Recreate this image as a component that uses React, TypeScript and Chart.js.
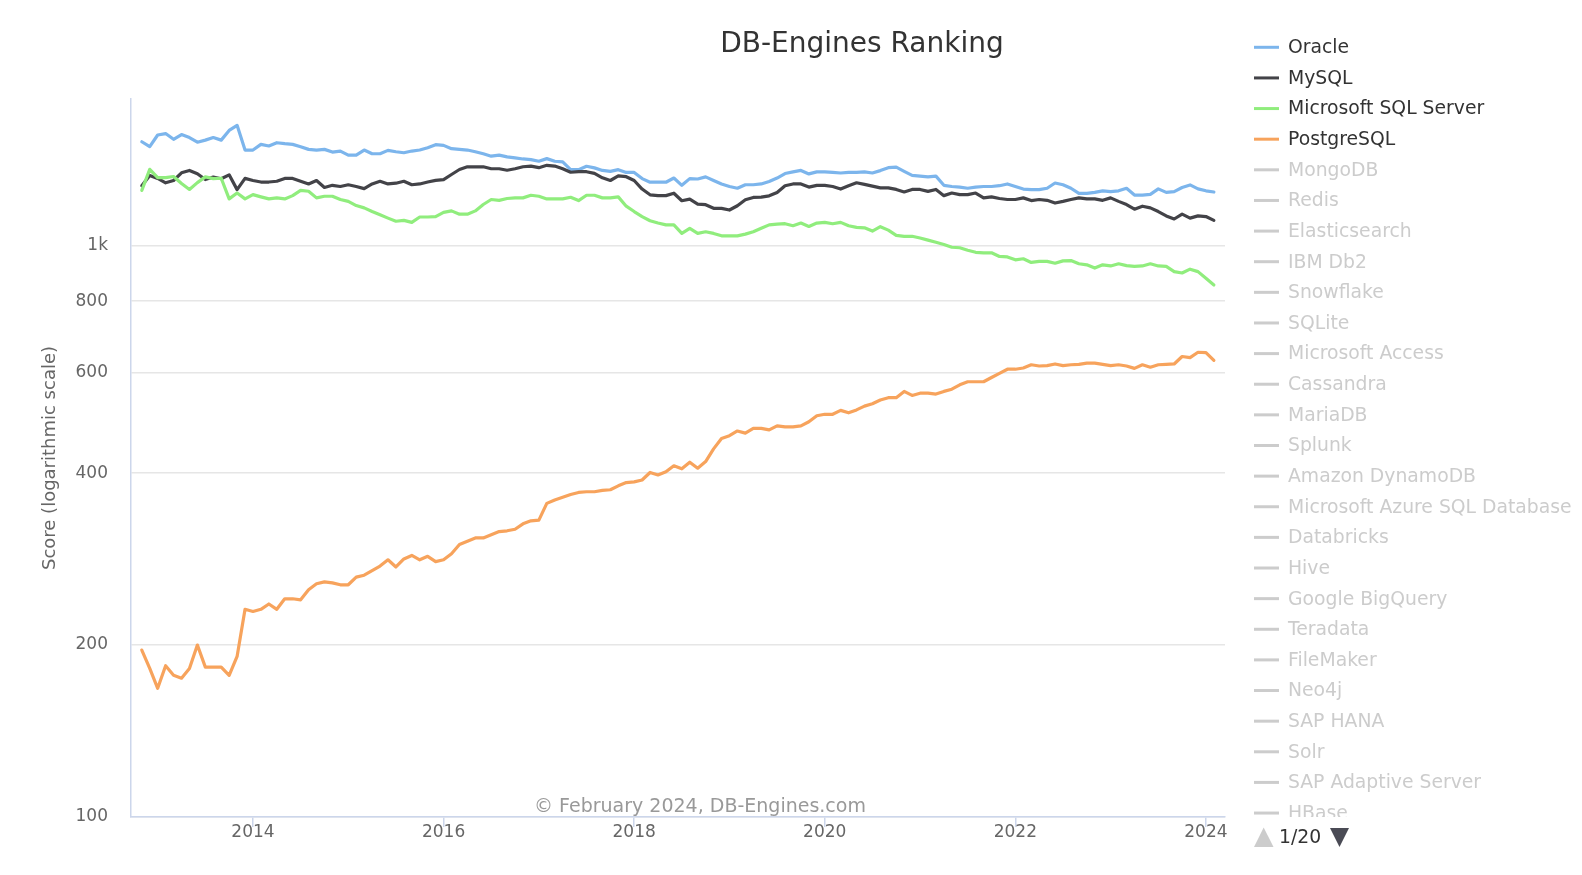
import React, { useEffect, useRef } from "react";
import { Chart, registerables } from "chart.js";

Chart.register(...registerables);

// ---------- data ----------
const START_YEAR = 2012;
const START_MONTH = 11; // first monthly score: November 2012

const oracle = [
  1521, 1491, 1563, 1572, 1536, 1566, 1547, 1518, 1531, 1547, 1531, 1592, 1625,
  1471, 1471, 1505, 1495, 1515, 1509, 1505, 1491, 1475, 1471, 1475, 1459, 1465,
  1441, 1441, 1471, 1449, 1449, 1469, 1461, 1455, 1465, 1471, 1485, 1503, 1499,
  1479, 1475, 1471, 1461, 1449, 1435,
  1441, 1431, 1425, 1419, 1415, 1406, 1421, 1406, 1402,
  1359, 1359, 1378, 1369, 1355, 1350, 1359, 1344, 1344, 1311, 1292, 1292, 1292,
  1314, 1276, 1311, 1309, 1320, 1301, 1283, 1270, 1261, 1279, 1279, 1283, 1296,
  1314, 1338, 1347, 1355, 1336, 1347, 1347, 1344, 1341, 1344, 1344,
  1347, 1341, 1354, 1370, 1373, 1350, 1328, 1324, 1320, 1324, 1276, 1270, 1267,
  1261, 1267, 1270, 1270, 1274, 1283, 1270, 1257, 1254, 1254, 1261, 1288, 1279,
  1261, 1235, 1235, 1240, 1248, 1244, 1248, 1261, 1227, 1227, 1230, 1258, 1240,
  1244, 1265, 1278, 1258, 1248, 1242,
];

const mysql = [
  1274, 1328, 1312, 1289, 1301, 1342, 1355, 1337, 1306, 1319, 1310, 1331, 1254,
  1312, 1301, 1293, 1293, 1297, 1312, 1312, 1297, 1283, 1301, 1265, 1276, 1270,
  1279, 1270, 1259, 1283, 1297, 1283, 1287, 1297, 1279, 1283, 1293, 1302, 1306,
  1333, 1360, 1375, 1375, 1375, 1364,
  1364, 1356, 1364, 1375, 1379, 1370, 1383, 1379, 1364, 1345, 1348, 1348, 1339,
  1315, 1301, 1325, 1321, 1301, 1257, 1228, 1224, 1224, 1236, 1199, 1207, 1183,
  1180, 1163, 1163, 1155, 1175, 1204, 1215, 1217, 1223, 1240, 1274, 1283, 1283,
  1267, 1276, 1276, 1270, 1257, 1274, 1289,
  1281, 1272, 1263, 1263, 1255, 1242, 1255, 1255, 1245, 1255, 1224, 1237, 1229,
  1229, 1237, 1213, 1218, 1210, 1205, 1205, 1213, 1200, 1205, 1201, 1188, 1196,
  1205, 1213, 1208, 1208, 1201, 1213, 1196, 1181, 1159, 1173, 1165, 1148, 1128,
  1114, 1136, 1118, 1128, 1125, 1108,
];

const mssql = [
  1250, 1361, 1316, 1316, 1322, 1285, 1255, 1290, 1320, 1311, 1313, 1208, 1237,
  1208, 1229, 1218, 1208, 1213, 1208, 1224, 1250, 1246, 1213, 1221, 1221, 1205,
  1196, 1176, 1165, 1148, 1133, 1118, 1104, 1108, 1099, 1123, 1123, 1125, 1144,
  1151, 1136, 1136, 1151, 1181, 1205,
  1201, 1210, 1213, 1213, 1226, 1221, 1208, 1208, 1208, 1216, 1200, 1226, 1226,
  1213, 1213, 1218, 1173, 1148, 1125, 1106, 1096, 1088, 1088, 1051, 1073, 1051,
  1058, 1051, 1041, 1041, 1041, 1048, 1058, 1073, 1088, 1091, 1093, 1084, 1096,
  1081, 1096, 1099, 1093, 1099, 1084, 1077,
  1075, 1061, 1080, 1065, 1043, 1039, 1039, 1032, 1023, 1014, 1005, 994, 992,
  982, 974, 972, 972, 958, 956, 945, 949, 935, 939, 939, 932, 941,
  942, 930, 926, 914, 926, 922, 930, 923, 920, 922, 930, 922, 920,
  901, 896, 910, 901, 877, 854,
];

const postgresql = [
  196, 182, 168, 184, 177, 175, 182, 200, 183, 183, 183, 177, 191,
  231, 229, 231, 236, 231, 241, 241, 240, 250, 256, 258, 257, 255,
  255, 263, 265, 270, 275, 282, 274, 283, 287, 282, 286, 280, 282,
  289, 300, 304, 308, 308, 312, 316, 317, 319, 326, 330, 331, 354,
  359, 363, 367, 370, 371, 371, 373, 374, 380, 385, 386, 389, 401,
  397, 402, 412,
  407, 418, 408, 419, 441, 460, 465, 474, 470, 479, 479, 476, 484,
  482, 482, 484, 492, 504, 507, 507, 515, 510, 516, 524, 529, 537,
  542, 542, 556, 547, 552, 552, 550, 556, 561, 571, 578, 578, 578,
  588, 598, 608, 608, 611, 619, 616, 617, 621, 617, 619, 620, 623,
  623, 620, 617, 619, 616, 610, 619, 613, 619, 620, 621, 640, 637,
  651, 650, 630,
];

const activeSeries = ["Oracle", "MySQL", "Microsoft SQL Server", "PostgreSQL"];
const inactiveSeries = [
  "MongoDB", "Redis", "Elasticsearch", "IBM Db2", "Snowflake", "SQLite",
  "Microsoft Access", "Cassandra", "MariaDB", "Splunk", "Amazon DynamoDB",
  "Microsoft Azure SQL Database", "Databricks", "Hive", "Google BigQuery",
  "Teradata", "FileMaker", "Neo4j", "SAP HANA", "Solr", "SAP Adaptive Server",
  "HBase",
];

const xTickYears = [2014, 2016, 2018, 2020, 2022, 2024];
const yTickValues = [100, 200, 400, 600, 800, 1000];

const TITLE = "DB-Engines Ranking";
const Y_TITLE = "Score (logarithmic scale)";
const CREDIT = "\u00A9 February 2024, DB-Engines.com";
const PAGE_TEXT = "1/20";

// ---------- styles / layout ----------
const W = 1582;
const H = 875;
const FONT = "'DejaVu Sans', 'Noto Sans', sans-serif";
const COLORS = ["#7cb5ec", "#434348", "#90ed7d", "#f7a35c"];
const PLOT_LEFT = 131;
const PLOT_TOP = 99;
const PLOT_RIGHT = 1225;
const PLOT_BOTTOM = 817;
const X_MIN = 2012.72;
const X_MAX = 2024.2;
const Y_MIN = 100;
const Y_MAX = 1807;

const seriesValues = [oracle, mysql, mssql, postgresql];
const monthX = (i: number) => START_YEAR + (START_MONTH - 1 + i) / 12;

const overlayPlugin = {
  id: "overlay",
  afterDraw(chart: any) {
    const ctx: CanvasRenderingContext2D = chart.ctx;
    ctx.save();

    // title
    ctx.font = `28px ${FONT}`;
    ctx.fillStyle = "#333333";
    ctx.textAlign = "center";
    ctx.textBaseline = "alphabetic";
    ctx.fillText(TITLE, 862, 52);

    // credit
    ctx.font = `19px ${FONT}`;
    ctx.fillStyle = "#999999";
    ctx.fillText(CREDIT, 700, 812);

    // legend
    ctx.save();
    ctx.beginPath();
    ctx.rect(1240, 25, W - 1240, PLOT_BOTTOM - 25);
    ctx.clip();
    const names = [...activeSeries, ...inactiveSeries];
    ctx.font = `18.8px ${FONT}`;
    ctx.textAlign = "left";
    ctx.textBaseline = "middle";
    names.forEach((name, k) => {
      const y = 47.3 + 30.63 * k;
      const active = k < activeSeries.length;
      ctx.strokeStyle = active ? COLORS[k] : "#cccccc";
      ctx.lineWidth = 3;
      ctx.beginPath();
      ctx.moveTo(1254, y);
      ctx.lineTo(1279, y);
      ctx.stroke();
      ctx.fillStyle = active ? "#333333" : "#cccccc";
      ctx.fillText(name, 1288, y + 1);
    });
    ctx.restore();

    // pagination
    ctx.fillStyle = "#cccccc";
    ctx.beginPath();
    ctx.moveTo(1254, 847);
    ctx.lineTo(1273.5, 847);
    ctx.lineTo(1263.7, 827.5);
    ctx.closePath();
    ctx.fill();
    ctx.fillStyle = "#333333";
    ctx.font = `18.8px ${FONT}`;
    ctx.textAlign = "left";
    ctx.textBaseline = "middle";
    ctx.fillText(PAGE_TEXT, 1279, 838);
    ctx.fillStyle = "#4a4b55";
    ctx.beginPath();
    ctx.moveTo(1330, 828);
    ctx.lineTo(1349, 828);
    ctx.lineTo(1339.5, 847);
    ctx.closePath();
    ctx.fill();

    ctx.restore();
  },
};

export default function App() {
  const canvasRef = useRef<HTMLCanvasElement | null>(null);

  useEffect(() => {
    if (!canvasRef.current) return;
    const chart = new Chart(canvasRef.current, {
      type: "line",
      data: {
        datasets: activeSeries.map((name, k) => ({
          label: name,
          data: seriesValues[k].map((v, i) => ({ x: monthX(i), y: v })),
          borderColor: COLORS[k],
          backgroundColor: COLORS[k],
          borderWidth: 3.2,
          pointRadius: 0,
          pointHoverRadius: 0,
          fill: false,
          tension: 0,
          borderJoinStyle: "round" as const,
          borderCapStyle: "round" as const,
          order: activeSeries.length - k,
        })),
      },
      options: {
        animation: false,
        responsive: false,
        devicePixelRatio: 1,
        layout: {
          padding: { left: 0, top: PLOT_TOP, right: W - PLOT_RIGHT, bottom: 0 },
        },
        plugins: {
          legend: { display: false },
          title: { display: false },
          tooltip: { enabled: false },
        },
        scales: {
          x: {
            type: "linear",
            min: X_MIN,
            max: X_MAX,
            afterBuildTicks: (scale: any) => {
              scale.ticks = xTickYears.map((v) => ({ value: v }));
            },
            afterFit: (scale: any) => {
              scale.height = H - PLOT_BOTTOM;
            },
            ticks: {
              autoSkip: false,
              maxRotation: 0,
              color: "#666666",
              font: { family: FONT, size: 17 },
              padding: -5,
              callback: (v: any) => String(v),
            },
            grid: {
              drawOnChartArea: false,
              drawTicks: true,
              tickLength: 10,
              color: "#ccd6eb",
              lineWidth: 1.5,
            },
            border: { color: "#ccd6eb", width: 1.5 },
          },
          y: {
            type: "logarithmic",
            min: Y_MIN,
            max: Y_MAX,
            afterBuildTicks: (scale: any) => {
              scale.ticks = yTickValues.map((v) => ({ value: v }));
            },
            afterFit: (scale: any) => {
              scale.width = PLOT_LEFT;
            },
            ticks: {
              color: "#666666",
              font: { family: FONT, size: 17 },
              padding: 23,
              callback: (v: any) => (Number(v) >= 1000 ? Number(v) / 1000 + "k" : String(v)),
            },
            grid: {
              color: "#e6e6e6",
              lineWidth: 1.5,
              drawTicks: false,
            },
            border: { color: "#ccd6eb", width: 1.5 },
            title: {
              display: true,
              text: Y_TITLE,
              color: "#666666",
              font: { family: FONT, size: 18 },
              padding: { top: 40, bottom: 0 },
            },
          },
        },
      },
      plugins: [overlayPlugin],
    } as any);
    return () => chart.destroy();
  }, []);

  return (
    <div style={{ position: "fixed", left: 0, top: 0, width: W, height: H, background: "#ffffff" }}>
      <canvas ref={canvasRef} width={W} height={H} style={{ width: W, height: H, display: "block" }} />
    </div>
  );
}
